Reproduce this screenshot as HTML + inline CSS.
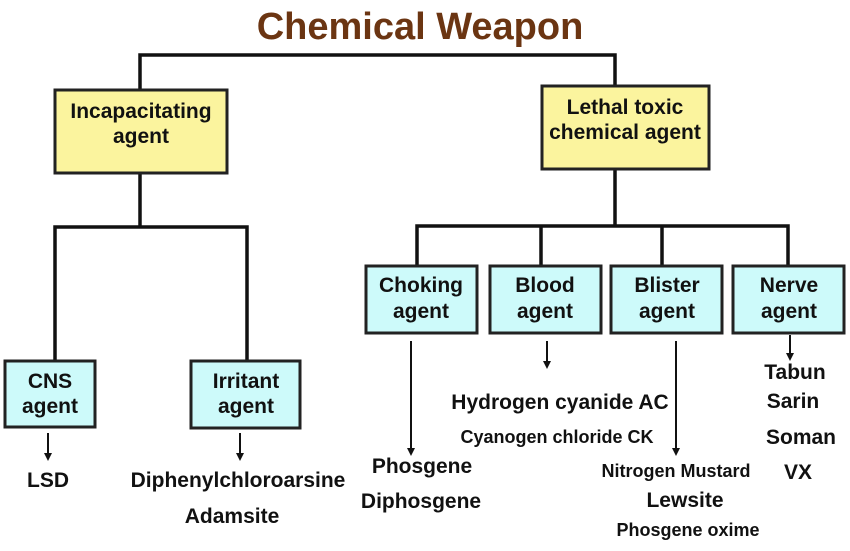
<!DOCTYPE html>
<html><head><style>
body{margin:0;background:#fff;}
svg text{font-family:"Liberation Sans",Arial,sans-serif;font-weight:bold;text-anchor:middle;fill:#111;}
</style></head><body>
<svg width="850" height="546" viewBox="0 0 850 546" xmlns="http://www.w3.org/2000/svg">
<text x="420" y="39" font-size="38" style="fill:#6b3512">Chemical Weapon</text>
<g stroke="#111" stroke-width="3.5" fill="none">
<path d="M140,89 V55 H615 V86"/>
<path d="M140,173 V227 M55,361 V227 H247 V361"/>
<path d="M615,169 V226 M417,266 V226 H788 V266 M541,226 V266 M662,226 V266"/>
</g>
<g stroke="#222" stroke-width="3" fill="#fbf49e">
<rect x="55" y="90" width="172" height="83"/>
<rect x="542" y="86" width="167" height="83"/>
</g>
<g stroke="#222" stroke-width="3" fill="#cdfafa">
<rect x="5" y="361" width="90" height="66"/>
<rect x="191" y="361" width="109" height="67"/>
<rect x="366" y="266" width="111" height="67"/>
<rect x="490" y="266" width="111" height="67"/>
<rect x="611" y="266" width="111" height="67"/>
<rect x="733" y="266" width="111" height="67"/>
</g>
<g stroke="#111" stroke-width="2">
<line x1="48" y1="433" x2="48" y2="454"/>
<line x1="240" y1="433" x2="240" y2="454"/>
<line x1="411" y1="341" x2="411" y2="449"/>
<line x1="547" y1="341" x2="547" y2="362"/>
<line x1="676" y1="341" x2="676" y2="449"/>
<line x1="790" y1="335" x2="790" y2="354"/>
</g>
<g fill="#111">
<path d="M44,453 h8 l-4,8z"/>
<path d="M236,453 h8 l-4,8z"/>
<path d="M407,448 h8 l-4,8z"/>
<path d="M543,361 h8 l-4,8z"/>
<path d="M672,448 h8 l-4,8z"/>
<path d="M786,353 h8 l-4,8z"/>
</g>
<g font-size="21">
<text x="141" y="118">Incapacitating</text><text x="141" y="143">agent</text>
<text x="625" y="114">Lethal toxic</text><text x="625" y="139">chemical agent</text>
<text x="50" y="388">CNS</text><text x="50" y="413">agent</text>
<text x="246" y="388">Irritant</text><text x="246" y="413">agent</text>
<text x="421" y="292">Choking</text><text x="421" y="318">agent</text>
<text x="545" y="292">Blood</text><text x="545" y="318">agent</text>
<text x="667" y="292">Blister</text><text x="667" y="318">agent</text>
<text x="789" y="292">Nerve</text><text x="789" y="318">agent</text>
<text x="48" y="487">LSD</text>
<text x="238" y="487">Diphenylchloroarsine</text>
<text x="232" y="523">Adamsite</text>
<text x="560" y="409">Hydrogen cyanide AC</text>
<text x="422" y="473">Phosgene</text>
<text x="421" y="508">Diphosgene</text>
<text x="685" y="507">Lewsite</text>
<text x="795" y="379">Tabun</text>
<text x="793" y="408">Sarin</text>
<text x="801" y="444">Soman</text>
<text x="798" y="479">VX</text>
</g>
<g font-size="18">
<text x="557" y="443">Cyanogen chloride CK</text>
<text x="676" y="477">Nitrogen Mustard</text>
<text x="688" y="536">Phosgene oxime</text>
</g>
</svg>
</body></html>
